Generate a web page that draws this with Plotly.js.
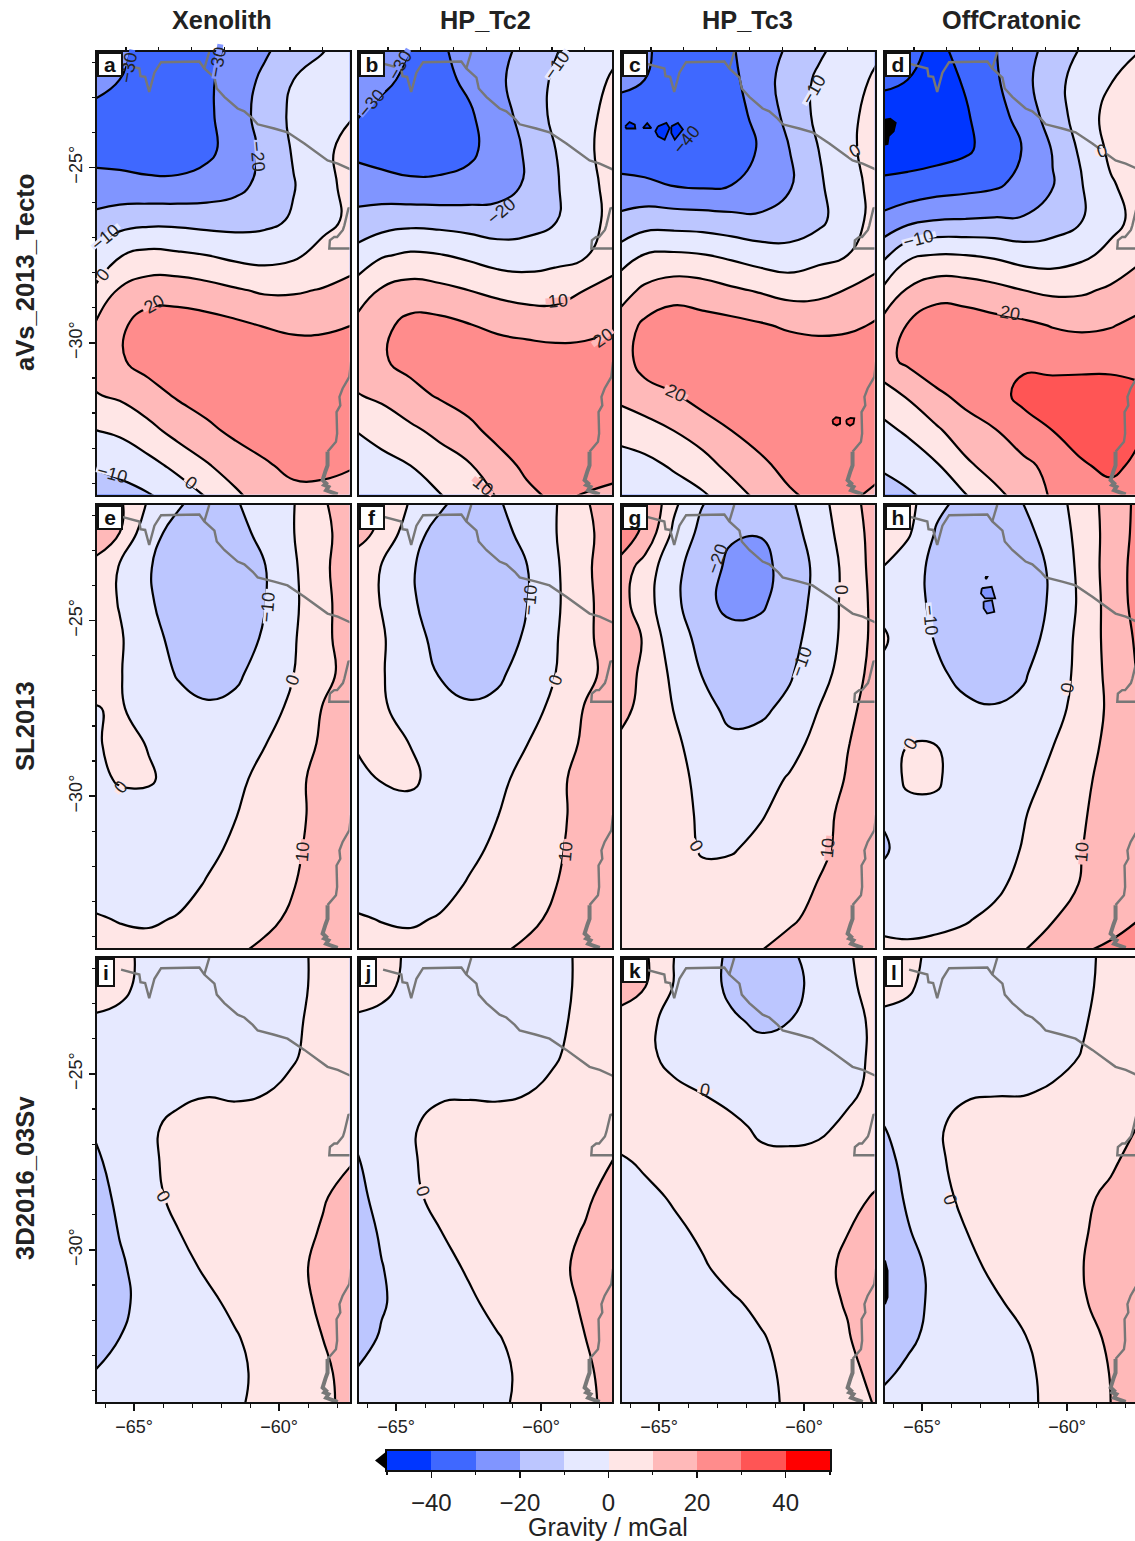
<!DOCTYPE html>
<html>
<head>
<meta charset="utf-8">
<script src="https://cdn.plot.ly/plotly-3.0.1.min.js"></script>
<style>html,body{margin:0;padding:0;background:#fff;overflow:hidden}</style>
</head>
<body>
<div id="chart" style="width:1135px;height:1541px"></div>
<script>
const xGrid = [-66.5,-65.5,-64.5,-63.5,-62.5,-61.5,-60.5,-59.5,-58.5,-57.5];
const yGrid = [-21.5,-22.5,-23.5,-24.5,-25.5,-26.5,-27.5,-28.5,-29.5,-30.5,-31.5,-32.5,-33.5,-34.5];

const zA = [
[-24,-28,-33,-35,-33,-28,-22,-16,-11,-7],
[-27,-30,-34,-36,-32,-25,-18,-10,-7,-4],
[-32,-34,-36,-36,-32,-24.5,-16,-8,-4,-0.5],
[-33,-34,-35,-35,-32.5,-25.5,-18,-9,-2,3],
[-27,-27,-28,-28,-26,-23,-17,-10.5,-3,3],
[-17.5,-14.5,-13,-13,-14,-14,-12.5,-9,-3,2],
[-8,-0.5,2.7,1.6,0,-2.5,-3.6,-1.6,3.2,6],
[-0.5,11,15,15.5,13.6,11,8.7,9,10.5,13],
[9,18,25,25,24,22,19.5,17.5,18,20],
[13,19,23.5,26,27,28,28,27,26,26],
[9,11.5,16.5,21,24,26,28,28,27,26],
[-0.5,1.6,7,13.5,18,22,24,25,25,25],
[-9.5,-7,-3.2,2.5,9,15,19,22,22,20.5],
[-16,-15,-12,-7,-1,7,14,17,17,16]];

const zB = [
[-22,-26,-30,-31,-27,-23,-18,-11,-6,-2],
[-25,-28,-32,-33,-28,-22,-15,-8.5,-3.5,1],
[-29,-32.5,-35,-34,-31.5,-24,-16.5,-7.5,-2.5,3],
[-32,-35,-36,-35,-32.5,-25,-19,-10,-2,4],
[-25.5,-26,-28,-28,-26.5,-24,-19,-11,-3,3],
[-17,-15,-13.5,-14,-15,-16,-14,-10.5,-4,3],
[-7.5,-1,1.5,0.5,-2,-5,-5.5,-3.5,-1,6],
[3,11,14,12.5,10,7.5,6,6.5,10,13],
[11,17.5,23,23,20.5,18,16,15,16,19],
[14,19,23,25,26,26,26,25,25,25],
[9,12,17,21,24,26,27,27,27,27],
[-0.5,3.5,8,12.5,17.5,23,25,26,26,26],
[-5,-3,0,5,9,16,22,25,25,24],
[-8,-7,-5,-1.5,4,10,17,21,18.5,16]];

const zC = [
[-26,-29,-33,-35,-30.5,-26,-19,-12,-7,-2],
[-28,-30,-35,-36,-32,-25,-15,-8.5,-4,1.5],
[-33,-36,-38.5,-38,-35,-26,-17,-7.5,-2,3],
[-35,-37,-38,-38,-35,-29,-20,-10,-2,4],
[-27.5,-28,-30.5,-31.5,-30,-27,-21,-11.5,-3.5,3],
[-18,-15,-15,-15.5,-17,-18,-16,-12.5,-4,3],
[-7,0.5,1.5,0.5,-2,-5,-6.5,-3,0,5],
[4.5,12,15.5,14.5,11.5,9,6.5,7.5,10.5,15],
[13,22,26,24,23,21,18.5,17,18,21],
[15,23,28,28,28,28,27,27,27,26],
[12,17,19,24,26,28,28.5,29,29,28],
[3,5,10,15,20,24,25,27,28,27],
[-4.5,-2.5,1,6,13,18,23,25,25,23],
[-8,-7,-5,-2.5,4,11.5,18,21.5,21,17]];

const zD = [
[-33,-37,-42,-36,-30.5,-24,-17,-10,-6,-1],
[-37,-40,-44,-39,-31.5,-23,-13.5,-6,-0.5,4],
[-46,-45,-44,-41,-34,-26,-15,-5.5,3.5,5],
[-46,-45,-44,-41.5,-36,-29.5,-19.5,-8,2,5],
[-38,-37,-35,-33.5,-31.5,-27,-20.5,-10.5,-1,4],
[-28,-23,-20,-19.5,-19,-19,-15,-10.3,-3,3],
[-14.5,-2,0.5,0,-1.5,-4.5,-5,-2,2.5,8],
[-1,11,16,15.5,13,10,8,8.5,11.5,16],
[11,20.5,26,25,23.5,22,19.5,18.5,19.5,22],
[16,22,27,28,27,28,27,26,26,27],
[4.5,11,18,23,26,33,34,36,36,32],
[-3.5,1.5,8.5,15.5,19.5,25,30,34,34,31],
[-9,-6.5,-1,8,14,18,22.5,29,32,28],
[-17,-12,-8,-2,6,13,21,26,26,24]];

const zE = [
[12,11,-0.5,-8,-13,-10.3,-6,-0.5,9.5,14],
[13,10,-7,-13,-15,-13.5,-7,-0.2,8.5,13],
[9,-0.8,-9.5,-14,-16,-14,-10.5,-1.5,9,13],
[6,-0.5,-9,-14,-16.5,-14,-10.3,-2,8.5,13],
[5,1,-6.5,-13,-15.5,-13,-9.3,-1,8.5,13],
[5,0.5,-5,-10.7,-13,-11.5,-6.5,-0.1,8,12.5],
[-0.5,0.8,-3.5,-7,-9,-8,-4.5,2.5,10.3,14],
[-2,3,-0.5,-3.5,-5,-3,-0.3,4.5,11.5,15],
[-3,1,1,-3,-4,-2,2.5,8,12.5,16],
[-4,-4,-3.5,-4,-3.5,-0.3,3.5,8,12.5,16],
[-4.5,-5,-5,-4.5,-2,1.5,5,8.7,13,16],
[-3.5,-5,-5,-3,0.5,3.5,6.7,9.7,13,15],
[1,-0.4,-1,0.5,3,5.5,8,11.5,13,15],
[4,3,3,4.5,6,9.5,12,13.5,14.5,15]];

const zF = [
[11,10,-0.5,-7.5,-13,-10.5,-6,-0.7,9.5,14],
[12,9,-6.5,-13,-15,-13.5,-7,-0.3,8.5,13],
[8,-0.6,-9.2,-14,-16,-14,-10.4,-1.5,9,13],
[6,-0.4,-8.8,-14,-16.5,-14,-10.2,-1.8,8.6,13],
[5,1,-6.2,-13,-15.5,-13,-9.2,-0.8,8.6,13],
[5,0.6,-4.8,-10.5,-13,-11.5,-6.5,0,8,12.5],
[1,1,-3.2,-7,-9,-8,-4.3,2.7,10.4,14],
[0,3.5,-0.2,-3.5,-5,-3,-0.2,4.6,11.6,15],
[-3.5,0.6,1.5,-3,-4,-2,2.6,8.2,12.6,16],
[-4,-4,-3,-4,-3.5,-0.2,3.6,8.2,12.6,16],
[-4.5,-5,-5,-4.5,-2,1.6,5,8.8,13,16],
[-3.5,-5,-5,-3,0.6,3.6,6.8,9.8,13,15],
[1,-0.3,-1,0.6,3,5.6,8,11.6,13,15],
[4,3,3,4.5,6,9.5,12,13.5,14.5,15]];

const zG = [
[28,21,3,-9,-13,-15,-11,-3.5,7,14],
[27,18,-2,-13,-19,-19.5,-14,-5,4.5,14],
[18,5.5,-7,-16,-22,-23,-16,-7.5,3,14],
[16,4,-7.5,-17,-23,-21.5,-15,-7,3,13],
[22,8.5,-6,-12.5,-16.5,-16.5,-13,-6,3,13],
[17,7.5,-2,-10.5,-13.5,-14,-11,-4,4.5,14],
[14,7,-0.2,-7,-12.5,-11.5,-8,0,8,14],
[9,6,1.5,-3.5,-8,-7.5,-3.5,3,9.7,14],
[7,5,2.5,-2,-4.5,-3.5,0.8,5,10.7,14],
[6,5,3,-1.3,-3.5,-0.7,3,7.5,12,14],
[6,5,3.5,-0.8,-0.6,2,5,8.5,12,14],
[6,5,4,2.5,3,4.5,6.5,10.3,12.5,14],
[6,5.5,5,5,5.5,7,9.5,11,13,14],
[6,6,6,6.5,8,10.3,11.5,12.5,13.5,14]];

const zH = [
[6,3.4,-7,-12,-14,-9.5,-4,4.5,14,22.5],
[5,1.5,-11,-15,-16.5,-13,-5.5,3,14,23],
[0.3,-6,-12.5,-16,-18,-15,-8.5,2.7,14.5,24],
[-3,-6.5,-12,-16.5,-19,-15.5,-8.5,2,14,24],
[2.5,-5,-10.7,-14.5,-17,-14,-7,3,13.5,22],
[-2,-5.5,-8.5,-12.5,-13.5,-11,-4.5,2.5,13,21],
[-4,-5,-6.5,-8.5,-9.5,-8,-3,3.2,12,20.5],
[-3.5,-0.1,-0.1,-4,-5,-3.5,-0.3,5,13,19],
[-7,1.6,1.6,-7,-5,-3,2,7.5,14,19],
[-9,-3,-3,-4,-4,-0.5,3.5,9,14,18],
[-13,-5,-5,-4.5,-3.5,0.5,5,9.8,14.5,18],
[-6,-5,-5,-3.5,-1.5,2,6,10.5,14.5,17.5],
[-2,-2,-1.5,-0.5,1.5,4.5,9.7,13,17,20],
[2.5,1.5,2,3,6,10.5,13,20.3,22,24]];

const zI = [
[5,2,-2,-3,-3.5,-3.5,-3,-1.5,1.5,3],
[4,1.5,-2,-3,-3.5,-3.5,-3,-1.5,1.5,3],
[-1,-1.5,-3,-3.5,-4,-3.5,-3,-1,2,3.5],
[-2.5,-3,-3.5,-3.5,-3.5,-3,-2.5,-0.5,2.5,4],
[-3.5,-3.5,-3,-1.5,-0.5,-1,-0.3,1.5,3,4.5],
[-9.5,-3.5,-1,1.5,2.5,2.5,3,3.5,4,5],
[-14,-4.5,-1.5,2.5,4,4.5,4.5,5,5.5,9.7],
[-15,-8,-3,2.5,4,5,5.5,6,9.3,13],
[-15,-9.7,-4,-0.3,3,5,6,7,10.7,14],
[-16,-11,-7,-3,1.2,4,6,8.5,11.5,14],
[-16,-11.5,-7.5,-5,-2,2,5,8,11,14],
[-14,-10,-6,-4.5,-3,-0.7,3.5,7,10,13],
[-10.2,-7,-5,-4,-3,-1.6,2,6,8.9,12],
[-6,-5,-4,-3.5,-3,-1,2.5,5.5,8.5,12]];

const zJ = [
[6,3,-1.5,-2.5,-3,-3,-3,-2,1.5,3],
[3.5,1.5,-1.5,-2.5,-3,-3,-3,-2,1.5,3],
[-1,-1.5,-2.5,-3,-3.5,-3.5,-3,-1.5,2,3.5],
[-3,-3,-3,-3.5,-3.5,-3,-2.5,-0.5,2.5,4],
[-4.5,-3.5,-3,-1,-0.8,-1,-0.3,1.5,3.5,4.5],
[-8.5,-4,-0.7,2,2.5,2.5,3,3.5,4,5],
[-12,-4.5,-1,3,4,4.5,5,5,6.5,10.5],
[-14,-6.5,-2,2.5,4,5,5.5,6.5,8.7,13],
[-15,-9,-5,-0.3,3,5,6,7.5,10.5,14],
[-16,-10.3,-6,-3,1,4,6,8.5,11.5,14],
[-16,-10.7,-7,-4.5,-1.5,2.5,5.5,8,10.7,14],
[-13.5,-9.3,-6,-4.5,-3,-0.5,3,6.5,9.9,13],
[-10,-7.5,-5.5,-4,-3,-1.5,1.5,5,8.5,13],
[-7,-6,-5,-4,-3,-1.2,2,5,8,12.5]];

const zK = [
[14,11,0.2,-6,-11.5,-14,-11,-6,-0.8,4],
[15,10.5,-0.3,-6,-12,-15,-13,-7,-2,4],
[7,2.5,-3,-5.5,-8.8,-11.5,-10,-6,-2.5,1.5],
[6,3,-3.5,-5,-6,-7,-6.5,-5,-2.5,1.5],
[11,5,2.5,-0.3,-3,-5,-5,-4,-1.5,2],
[5,5,4,3,2,-1.5,-2.5,-1.5,1.5,3],
[-2,1.5,3,4,4,2,2,2.5,4,6],
[-6,-2.5,1,4,5,5,5,5.5,7,11],
[-8,-5,-2,1.5,4,6,6.5,7.5,9.9,14],
[-8,-6,-4,-1,3,5,6,8.5,11,15],
[-8,-7,-5,-3,-1.2,2,5,8,10.5,14],
[-7,-6.5,-5.5,-4,-2.5,-0.8,3,6,9.5,14],
[-6,-6,-5,-4,-3,-1.8,1.5,5,8,12],
[-6,-6,-5,-4,-3,-2,1,4,7,10.3]];

const zL = [
[4,2,-2,-3,-3,-3.5,-3,-1.5,1.5,3],
[2.5,0.7,-2,-3,-3,-3.5,-3,-1.5,2,3],
[-1.5,-1.5,-3,-3,-3.5,-3.5,-2.5,-0.7,2.5,3.5],
[-3,-3,-3.5,-3.5,-3.5,-2.5,-2,0.2,3,4],
[-5,-3.5,-3.5,-1,-0.5,-0.5,0.7,3,4,6],
[-11,-6,-1,2.5,3,3.5,3.5,4,5.5,10.7],
[-14,-7.5,-1.5,3,4,5,5,6,8.5,14],
[-15,-9,-3,2,4,5,6,8,12,16],
[-18,-10.6,-6,-0.2,3,5,7,8.8,14,17],
[-19,-12.5,-8,-3,2,4.5,7,9.7,14,17],
[-20,-13,-8,-5,-1.5,3,5.5,9,13.5,17],
[-17,-11.5,-7.5,-5.5,-3.5,-0.5,3,6.5,11.5,16],
[-12,-8.5,-6,-5,-3.5,-1.5,2,5,10.3,14],
[-8,-6,-5,-4.5,-3.5,-1.5,1.5,5,10,14]];

const panelGrids = [zA,zB,zC,zD,zE,zF,zG,zH,zI,zJ,zK,zL];
const panelLetters = ['a','b','c','d','e','f','g','h','i','j','k','l'];
const columnTitles = ['Xenolith','HP_Tc2','HP_Tc3','OffCratonic'];
const rowTitles = ['aVs_2013_Tecto','SL2013','3D2016_03Sv'];
const bandColors = ['#0036ff','#3f68ff','#8095ff','#bcc6ff','#e6e9ff','#ffe6e6','#ffb9b9','#ff8c8c','#ff5555','#ff0000'];
const bandLevels = [-50,-40,-30,-20,-10,0,10,20,30,40,50];
const barMids = [-45,-35,-25,-15,-5,5,15,25,35,45];

// outlines: borders and coast (null = break)
const borderLon = [-65.45,-64.82,-64.78,-64.62,-64.48,-64.3,-64.07,-63.4,-62.75,-62.58,-62.23,-62.15,-61.89,-61.43,-61.2,-60.91,-60.74,-60.17,-59.71,-59.13,-58.75,-58.33,-57.98,-57.52,null,-62.58,-62.41,null,-57.5,-58.27,-58.25,-58.1,-58.0,-57.8,-57.75,-57.61,-57.46,null,-57.52,-57.58,-57.81,-57.92,-57.89,-58.02,-58.0,-58.04,-58.33];
const borderLat = [-22.04,-22.18,-22.4,-22.42,-22.85,-22.3,-22.0,-22.0,-21.98,-22.18,-22.44,-22.75,-22.99,-23.32,-23.4,-23.61,-23.77,-23.89,-24.0,-24.32,-24.55,-24.8,-24.89,-25.06,null,-22.18,-21.71,null,-27.31,-27.31,-27.08,-26.98,-26.98,-26.78,-26.65,-26.17,-26.13,null,-30.54,-30.97,-31.3,-31.54,-31.78,-31.97,-32.58,-32.82,-33.1];
const deltaLon = [-58.33,-58.33,-58.4,-58.5,-58.38,-58.44,-58.3,-58.38,-57.98];
const deltaLat = [-33.1,-33.49,-33.65,-33.91,-34.0,-34.05,-34.1,-34.2,-34.32];

// small closed contours too tiny for the grid
const islandPanel = [2,2,2,2,2,2,3,7,7,7,11];
const islandBand = ['#0036ff','#0036ff','#0036ff','#0036ff','#ff5555','#ff5555','#000000','#8095ff','#8095ff','#000000','#000000'];
const islandLon = [
[-66.17,-66.02,-65.84,-65.82,-66.13,-66.17],[-65.56,-65.41,-65.27,-65.56],
[-65.04,-64.75,-64.64,-64.81,-65.04,-65.13,-65.04],[-64.58,-64.35,-64.18,-64.46,-64.58,-64.58],
[-59.02,-58.9,-58.76,-58.76,-58.88,-59.0,-59.02],[-58.55,-58.4,-58.27,-58.3,-58.42,-58.53,-58.55],
[-66.28,-66.1,-65.91,-65.98,-66.15,-66.19,-66.28,-66.28],
[-62.94,-62.6,-62.48,-62.83,-62.97,-62.94],[-62.88,-62.59,-62.51,-62.76,-62.88,-62.88],[-62.83,-62.75,-62.79,-62.83],
[-66.28,-66.19,-66.19,-66.28,-66.28]];
const islandLat = [
[-23.83,-23.71,-23.78,-23.89,-23.89,-23.83],[-23.88,-23.74,-23.88,-23.88],
[-23.83,-23.73,-23.88,-24.21,-24.11,-23.97,-23.83],[-23.83,-23.73,-23.92,-24.21,-24.02,-23.83],
[-32.2,-32.12,-32.14,-32.3,-32.35,-32.3,-32.2],[-32.2,-32.14,-32.15,-32.3,-32.36,-32.3,-32.2],
[-23.64,-23.61,-23.73,-23.97,-24.11,-24.33,-24.35,-23.64],
[-24.08,-24.04,-24.37,-24.37,-24.23,-24.08],[-24.46,-24.42,-24.75,-24.8,-24.65,-24.46],[-23.76,-23.76,-23.82,-23.76],
[-30.3,-30.59,-31.35,-31.54,-30.3]];

// contour labels
const labelPanel = [0,0,0,0,0,0,0,0,1,1,1,1,1,1,1,2,2,2,2,3,3,3,4,4,4,4,5,5,5,6,6,6,6,6,7,7,7,7,8,9,10,11];
const labelText = ['−30','−30','−20','−10','0','20','−10','0','−30','−30','−20','−10','10','20','10','−40','−10','0','20','−10','20','0','−10','0','0','10','−10','0','10','−20','−10','0','0','10','−10','0','0','10','0','0','0','0'];
const labelLon = [-62.12,-65.18,-60.74,-65.97,-66.08,-64.31,-65.74,-63.04,-64.87,-65.84,-61.36,-59.46,-59.42,-57.87,-62.0,-64.07,-59.69,-58.26,-64.42,-65.12,-61.97,-58.8,-60.4,-59.53,-65.45,-59.19,-60.38,-59.49,-59.14,-62.97,-60.1,-58.72,-63.72,-59.18,-64.72,-60.0,-65.41,-59.49,-64.01,-64.08,-63.43,-64.03];
const labelLat = [-21.99,-22.14,-24.7,-26.98,-28.07,-28.89,-33.73,-33.99,-22.07,-23.16,-26.24,-22.07,-28.8,-29.86,-34.08,-24.21,-22.78,-24.54,-31.42,-27.03,-29.15,-24.54,-24.61,-26.7,-29.74,-31.59,-24.42,-26.7,-31.57,-23.23,-26.17,-24.13,-31.42,-31.48,-24.99,-26.91,-28.5,-31.59,-28.48,-28.33,-25.46,-28.58];
const labelAngle = [-80,-80,85,-40,-50,-30,15,35,-60,-50,-40,-55,-5,-35,40,-50,-60,-30,25,-15,10,-15,-85,-70,-50,-85,-85,-70,-85,-70,-70,90,60,-85,85,-80,-60,-85,60,70,10,70];
const labelBg = [-25,-35,-15,-5,5,15,-5,5,-25,-25,-15,-5,15,15,15,-35,-5,5,15,-5,15,5,-5,5,5,15,-5,5,15,-15,-5,5,5,15,-5,5,5,15,5,5,5,5];

const W = 1135, H = 1541;
const lefts = [97,359,622,885];
const rights = [349.5,612,874.5,1135];
const tops = [52,505,958];
const bottoms = [494.5,948,1402];
const lon0 = -66.28, pxPerLon = 29, topPxPerLon = 32.8;
const latRange = [-34.32,-21.71];
const majorLon = [-65,-60], majorLat = [-25,-30];
const minorLon = [-66,-64,-63,-62,-61,-59,-58];
const minorLat = [-22,-23,-24,-26,-27,-28,-29,-31,-32,-33,-34];

const colorscale = [];
bandColors.forEach((c,i)=>{ colorscale.push([i/10,c]); colorscale.push([(i+1)/10,c]); });

const bandOf = v => bandColors[bandLevels.findIndex((l,i)=> v>=l && v<bandLevels[i+1])];
const traces = [], layout = {
  width:W, height:H, margin:{l:0,r:0,t:0,b:0}, showlegend:false,
  paper_bgcolor:'#fff', plot_bgcolor:'#fff',
  font:{family:'"Liberation Sans",Arial,sans-serif',color:'#222'},
  annotations:[], shapes:[]
};
const axisBase = {showgrid:false, zeroline:false, showline:true, linecolor:'#111', linewidth:2, mirror:true, layer:'above traces'};
const fontTick = {size:18,color:'#222'};

panelGrids.forEach((z,k)=>{
  const col = k%4, row = Math.floor(k/4), n = k+1;
  const xa = 'x'+n, ya = 'y'+n;
  const w = rights[col]-lefts[col];
  layout['xaxis'+n] = Object.assign({}, axisBase, {
    domain:[lefts[col]/W, rights[col]/W], range:[lon0, lon0+w/pxPerLon], anchor:ya,
    tickmode:'array', tickvals:majorLon, ticktext:majorLon.map(v=>'−'+Math.abs(v)+'°'),
    showticklabels:row===2, ticks:row===2?'outside':'', ticklen:7, tickwidth:1.5, tickcolor:'#111', tickfont:fontTick,
    minor: row===2 ? {tickmode:'array',tickvals:minorLon,ticks:'outside',ticklen:4,tickwidth:1.2,tickcolor:'#111'} : {ticks:''}
  });
  layout['yaxis'+n] = Object.assign({}, axisBase, {
    domain:[1-bottoms[row]/H, 1-tops[row]/H], range:latRange, anchor:xa,
    tickmode:'array', tickvals:majorLat, ticktext:majorLat.map(v=>'−'+Math.abs(v)+'°'), tickangle:-90,
    showticklabels:col===0, ticks:col===0?'outside':'', ticklen:6, tickwidth:1.5, tickcolor:'#111', tickfont:fontTick,
    minor: col===0 ? {tickmode:'array',tickvals:minorLat,ticks:'outside',ticklen:3,tickwidth:1.2,tickcolor:'#111'} : {ticks:''}
  });
  traces.push({type:'contour', x:xGrid, y:yGrid, z:z, xaxis:xa, yaxis:ya, zmin:-50, zmax:50, autocontour:false,
    contours:{start:-50,end:50,size:10,coloring:'fill',showlines:true},
    colorscale:colorscale, showscale:false, line:{color:'#000',width:2.2,smoothing:1.3}, hoverinfo:'skip'});
});

islandPanel.forEach((p,i)=>{
  const n = p+1;
  traces.push({type:'scatter',mode:'lines',x:islandLon[i],y:islandLat[i],xaxis:'x'+n,yaxis:'y'+n,fill:'toself',
    fillcolor:islandBand[i],line:{color:'#000',width:1.8},hoverinfo:'skip'});
});

panelGrids.forEach((z,k)=>{
  const n = k+1;
  traces.push({type:'scatter',mode:'lines',x:borderLon,y:borderLat,xaxis:'x'+n,yaxis:'y'+n,
    line:{color:'#777',width:2.4},hoverinfo:'skip',connectgaps:false});
  traces.push({type:'scatter',mode:'lines',x:deltaLon,y:deltaLat,xaxis:'x'+n,yaxis:'y'+n,
    line:{color:'#777',width:4},hoverinfo:'skip'});
});

// top tick axes on first row (longitudes converge to the north)
for(let c=0;c<4;c++){
  const n = 13+c, w = rights[c]-lefts[c];
  layout['xaxis'+n] = {overlaying:'x'+(c+1), anchor:'y'+(c+1), side:'top', domain:[lefts[c]/W,rights[c]/W],
    range:[-65-29/topPxPerLon, -65-29/topPxPerLon+w/topPxPerLon], showgrid:false, zeroline:false, showline:false,
    tickmode:'array', tickvals:majorLon, ticktext:['',''], ticks:'outside', ticklen:7, tickwidth:1.5, tickcolor:'#111',
    minor:{tickmode:'array',tickvals:[-65,-64,-63,-62,-61,-60,-59],ticks:'outside',ticklen:4,tickwidth:1.2,tickcolor:'#111'}};
  traces.push({type:'scatter',mode:'markers',x:[-62],y:[-28],xaxis:'x'+n,yaxis:'y'+(c+1),marker:{opacity:0},hoverinfo:'skip'});
}

// colour bar
traces.push({type:'heatmap',x:barMids,y:[0],z:[barMids],xaxis:'x17',yaxis:'y17',zmin:-50,zmax:50,colorscale:colorscale,showscale:false,hoverinfo:'skip'});
layout.xaxis17 = Object.assign({},axisBase,{domain:[387/W,830/W],range:[-50,50],anchor:'y17',tickmode:'array',
  tickvals:[-40,-20,0,20,40],ticktext:['−40','−20','0','20','40'],ticks:'outside',ticklen:6,tickwidth:1.5,tickcolor:'#111',ticklabelstandoff:4,
  tickfont:{size:24,color:'#222'},minor:{tickmode:'array',tickvals:[-50,-30,-10,10,30,50],ticks:'outside',ticklen:3,tickwidth:1.2,tickcolor:'#111'}});
layout.yaxis17 = Object.assign({},axisBase,{domain:[1-1470/H,1-1451/H],range:[-0.5,0.5],anchor:'x17',showticklabels:false,ticks:''});
layout.shapes.push({type:'path',xref:'paper',yref:'paper',path:`M ${387/W} ${1-1451/H} L ${375/W} ${1-1460.5/H} L ${387/W} ${1-1470/H} Z`,fillcolor:'#000',line:{width:0}});
layout.annotations.push({xref:'paper',yref:'paper',x:608/W,y:1-1527/H,text:'Gravity / mGal',showarrow:false,font:{size:25,color:'#222'},xanchor:'center',yanchor:'middle'});

// titles
const colCenters = [222,486,748,1011], rowCenters = [273,726,1178];
columnTitles.forEach((t,i)=>layout.annotations.push({xref:'paper',yref:'paper',x:colCenters[i]/W,y:1-20/H,text:'<b>'+t+'</b>',showarrow:false,font:{size:25.3,color:'#222'},xanchor:'center',yanchor:'middle'}));
rowTitles.forEach((t,i)=>layout.annotations.push({xref:'paper',yref:'paper',x:25/W,y:1-rowCenters[i]/H,text:'<b>'+t+'</b>',textangle:-90,showarrow:false,font:{size:25.6,color:'#222'},xanchor:'center',yanchor:'middle'}));

// contour labels: a thin strip breaks the line, the text sits on top
labelText.forEach((t,i)=>{
  const n = labelPanel[i]+1;
  if(t!=='−40') layout.annotations.push({xref:'x'+n,yref:'y'+n,x:labelLon[i],y:labelLat[i],text:' ',textangle:labelAngle[i],showarrow:false,
    font:{size:4},xanchor:'center',yanchor:'middle',borderpad:0,width:t.length*10+4,height:5,bgcolor:bandOf(labelBg[i])});
  layout.annotations.push({xref:'x'+n,yref:'y'+n,x:labelLon[i],y:labelLat[i],text:t,textangle:labelAngle[i],showarrow:false,
    font:{size:18,color:'#222'},xanchor:'center',yanchor:'middle',borderpad:0});
});

// panel letters
panelLetters.forEach((t,k)=>{
  const col=k%4,row=Math.floor(k/4);
  const narrow = 'ijl'.includes(t);
  layout.annotations.push({xref:'paper',yref:'paper',x:lefts[col]/W,y:1-tops[row]/H,xanchor:'left',yanchor:'top',
    text:'<b>'+t+'</b>',showarrow:false,font:{size:21,color:'#111'},bgcolor:'#fff',bordercolor:'#111',borderwidth:2,borderpad:0,
    width:narrow?14:22,height:narrow?25:21,align:'center',valign:'middle'});
});

Plotly.newPlot('chart',traces,layout,{staticPlot:true,displayModeBar:false});
</script>
</body>
</html>
